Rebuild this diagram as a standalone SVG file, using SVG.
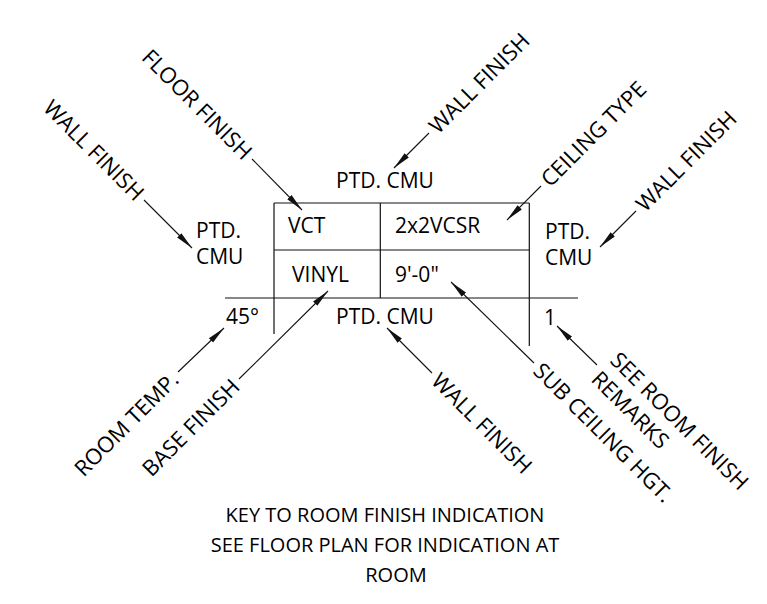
<svg xmlns="http://www.w3.org/2000/svg" width="767" height="604" viewBox="0 0 767 604">
<style>
text{font-family:"Open Sans","Liberation Sans",sans-serif;font-size:21px;fill:#000}
.r text{font-size:22px}
.c{font-size:20px}
.ln{stroke:#111;stroke-width:1.2;fill:none}
.ld{stroke:#111;stroke-width:1.1;fill:none;marker-end:url(#ah)}
.e{text-anchor:end}
.m{text-anchor:middle}
</style>
<defs>
<marker id="ah" markerUnits="userSpaceOnUse" markerWidth="20" markerHeight="8" refX="18" refY="4" orient="auto" viewBox="0 0 20 8">
<path d="M0,1 L18,4 L0,7 Z" fill="#111"/>
</marker>
</defs>
<rect width="767" height="604" fill="#fff"/>
<g id="table">
<path class="ln" d="M274,203 H529.3 M274,250 H529.3 M225,298 H578 M274,203 V334 M529.3,203 V346 M380.3,203 V298"/>
<text x="288" y="233">VCT</text>
<text x="395" y="233">2x2VCSR</text>
<text x="292" y="282">VINYL</text>
<text x="395" y="282">9'-0"</text>
</g>
<g id="top-wall"><text class="m" x="385" y="188">PTD. CMU</text></g>
<g id="bottom-wall"><text class="m" x="385" y="324">PTD. CMU</text></g>
<g id="left-wall"><text x="196" y="238">PTD.</text><text x="196" y="264">CMU</text></g>
<g id="right-wall"><text x="545" y="239">PTD.</text><text x="545" y="265">CMU</text></g>
<g id="room-temp-value"><text x="226" y="324">45°</text></g>
<g id="remarks-value"><text x="544" y="325">1</text></g>
<g id="connectors">
<line class="ld" x1="252" y1="159" x2="302" y2="210"/>
<line class="ld" x1="144" y1="200" x2="192" y2="248"/>
<line class="ld" x1="429" y1="133" x2="394" y2="168"/>
<line class="ld" x1="541" y1="186" x2="507" y2="220"/>
<line class="ld" x1="636" y1="211" x2="600" y2="247"/>
<line class="ld" x1="178" y1="372" x2="224" y2="328"/>
<line class="ld" x1="239" y1="379" x2="328" y2="291"/>
<line class="ld" x1="432" y1="373" x2="387" y2="328"/>
<line class="ld" x1="534" y1="363" x2="451" y2="282"/>
<line class="ld" x1="597" y1="365" x2="557" y2="326"/>
</g>
<g class="r">
<g id="lbl-floor-finish" transform="translate(252,159) rotate(45)"><text class="e" x="-5" y="8">FLOOR FINISH</text></g>
<g id="lbl-wall-left" transform="translate(144,200) rotate(45)"><text class="e" x="-5" y="8">WALL FINISH</text></g>
<g id="lbl-wall-top" transform="translate(429,133) rotate(-45)"><text x="5" y="8">WALL FINISH</text></g>
<g id="lbl-ceiling-type" transform="translate(541,186) rotate(-45)"><text x="5" y="8">CEILING TYPE</text></g>
<g id="lbl-wall-right" transform="translate(636,211) rotate(-45)"><text x="5" y="8">WALL FINISH</text></g>
<g id="lbl-room-temp" transform="translate(178,372) rotate(-45)"><text class="e" x="-5" y="8">ROOM TEMP.</text></g>
<g id="lbl-base-finish" transform="translate(239,379) rotate(-45)"><text class="e" x="-5" y="8">BASE FINISH</text></g>
<g id="lbl-wall-bottom" transform="translate(432,373) rotate(45)"><text x="5" y="8">WALL FINISH</text></g>
<g id="lbl-sub-ceiling" transform="translate(534,363) rotate(45)"><text x="5" y="8">SUB CEILING HGT.</text></g>
<g id="lbl-remarks" transform="translate(597,365) rotate(45)"><text x="6" y="-11">SEE ROOM FINISH</text><text x="6" y="16">REMARKS</text></g>
</g>
<g id="caption">
<text class="m c" x="385" y="522">KEY TO ROOM FINISH INDICATION</text>
<text class="m c" x="385" y="552">SEE FLOOR PLAN FOR INDICATION AT</text>
<text class="m c" x="396" y="582">ROOM</text>
</g>
</svg>
